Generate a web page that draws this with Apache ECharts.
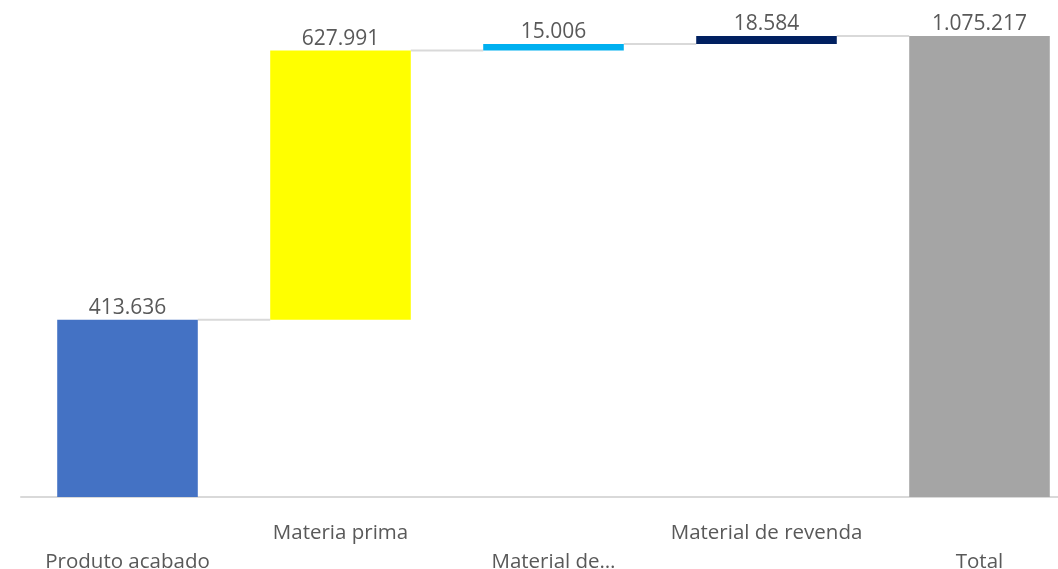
<!DOCTYPE html>
<html>
<head>
<meta charset="utf-8">
<script src="https://cdn.jsdelivr.net/npm/echarts@6/dist/echarts.min.js"></script>
<style>html,body{margin:0;padding:0;background:#fff;}#c{width:1058px;height:569px;}</style>
</head>
<body>
<div id="c"></div>
<script>
var categories = ['Produto acabado', 'Materia prima', 'Material de…', 'Material de revenda', 'Total'];
var values = [413636, 627991, 15006, 18584, 1075217];
var colors = ['#4472C4', '#FFFF00', '#00B0F0', '#002060', '#A5A5A5'];
var isTotal = [false, false, false, false, true];

function fmt(v) { return String(v).replace(/\B(?=(\d{3})+(?!\d))/g, '.'); }

var bases = [], ends = [], run = 0;
for (var i = 0; i < values.length; i++) {
  if (isTotal[i]) { bases.push(0); ends.push(values[i]); run = values[i]; }
  else { bases.push(run); run += values[i]; ends.push(run); }
}
var connectors = [];
for (var j = 0; j < values.length - 1; j++) connectors.push([j, ends[j]]);

var FONT = '"Open Sans", sans-serif';
var chart = echarts.init(document.getElementById('c'));
var gapRatio = 0.34;
chart.setOption({
  animation: false,
  grid: { left: 21, top: 36, width: 1065, bottom: 72, containLabel: false, outerBoundsMode: 'none' },
  xAxis: {
    type: 'category', data: categories,
    axisLine: { lineStyle: { color: '#D9D9D9', width: 2 } },
    axisTick: { show: false },
    axisLabel: {
      interval: 0, margin: 22, color: '#595959', fontFamily: FONT, fontSize: 20.5, lineHeight: 29,
      formatter: function (v, idx) { return idx % 2 === 1 ? v : '\n' + v; }
    }
  },
  yAxis: { type: 'value', min: 0, max: values[values.length - 1], show: false, splitLine: { show: false } },
  series: [
    { type: 'bar', stack: 'w', data: bases, itemStyle: { color: 'transparent' }, barCategoryGap: (gapRatio * 100) + '%', silent: true },
    {
      type: 'bar', stack: 'w', barCategoryGap: (gapRatio * 100) + '%',
      data: values.map(function (v, k) { return { value: v, itemStyle: { color: colors[k] } }; }),
      label: { show: true, position: 'top', distance: 1, color: '#595959', fontFamily: FONT, fontSize: 21,
        formatter: function (p) { return fmt(p.value); } }
    },
    {
      type: 'custom', data: connectors, z: 1,
      renderItem: function (params, api) {
        var idx = api.value(0), v = api.value(1);
        var p1 = api.coord([idx, v]), p2 = api.coord([idx + 1, v]);
        var bw = api.size([1, 0])[0] * (1 - gapRatio);
        return { type: 'line', shape: { x1: p1[0] + bw / 2, y1: p1[1], x2: p2[0] - bw / 2, y2: p2[1] },
          style: { stroke: '#D9D9D9', lineWidth: 2 } };
      }
    }
  ]
});
</script>
</body>
</html>
